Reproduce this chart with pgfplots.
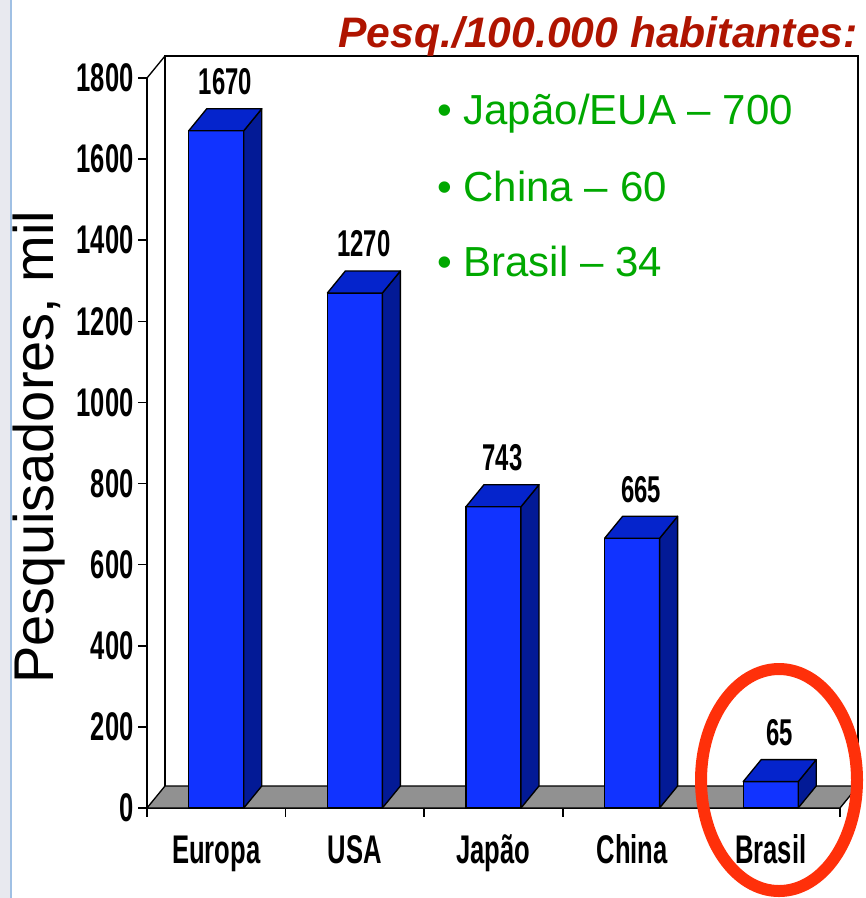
\documentclass[border=0pt]{standalone}
\usepackage{pgfplots}
\pgfplotsset{compat=1.18}
\usepackage{pgfplotstable}
\usepackage{fontspec}
\setmainfont{Liberation Sans}
\newfontfamily\condfont{Liberation Sans}[FakeStretch=0.64]

\definecolor{barfront}{RGB}{17,51,255}
\definecolor{bartop}{RGB}{5,36,204}
\definecolor{barside}{RGB}{3,26,150}
\definecolor{floorgray}{RGB}{145,145,145}
\definecolor{titlered}{RGB}{175,20,0}
\definecolor{bulletgreen}{RGB}{0,168,0}
\definecolor{circlered}{RGB}{255,48,10}
\definecolor{stripgray}{RGB}{232,233,239}
\definecolor{stripblue}{RGB}{160,192,228}

% researchers (thousands) per region
\pgfplotstableread{
x val
0 1670
1 1270
2 743
3 665
4 65
}\researchers

% 3d look: half bar width and depth offset
\newcommand\hw{20.625pt}
\newcommand\dx{13.5pt}
\newcommand\dy{16.5pt}
\pgfdeclareplotmark{empty}{}

\begin{document}
\begin{tikzpicture}
\begin{axis}[
    scale only axis, width=519.75pt, height=547.5pt,
    xmin=-0.5, xmax=4.5, ymin=0, ymax=1800,
    axis x line*=bottom, axis y line*=left,
    xtick={-0.5,0.5,...,4.5},
    x tick label as interval,
    xticklabels={Europa,USA,Japão,China,Brasil},
    ytick={0,200,...,1800},
    tick align=outside,
    major tick length=6.5pt,
    tick style={black, line width=1.1pt},
    axis line style={line width=1.2pt},
    /pgf/number format/1000 sep={},
    /pgf/number format/assume math mode=true,
    ticklabel style={font=\condfont\bfseries\fontsize{30pt}{33pt}\selectfont},
    xticklabel style={anchor=base, yshift=-35pt},
    ylabel={Pesquisadores, mil},
    ylabel style={font=\fontsize{42pt}{46pt}\selectfont,
        at={(axis description cs:-0.1356,0.4945)}, anchor=base},
    clip=false,
]
% floor and back wall
\draw[fill=floorgray, line width=1pt] (axis cs:-0.5,0) -- (axis cs:4.5,0)
    -- ([xshift=\dx,yshift=\dy]axis cs:4.5,0) -- ([xshift=\dx,yshift=\dy]axis cs:-0.5,0) -- cycle;
\draw[line width=1pt] ([xshift=\dx,yshift=\dy]axis cs:-0.5,0)
    -- ([xshift=\dx,yshift=\dy]axis cs:-0.5,1800)
    -- ([xshift=\dx,yshift=\dy]axis cs:4.5,1800)
    -- ([xshift=\dx,yshift=\dy]axis cs:4.5,0);
\draw[line width=1pt] (axis cs:-0.5,1800) -- ++(\dx,\dy);

% side and top faces
\addplot[scatter, only marks, mark=empty,
    visualization depends on={rawy \as \barv},
    scatter/@pre marker code/.code={%
      \filldraw[barside, draw=black, line width=1pt, line join=round]
        (\hw,0pt) -- (\hw+\dx,\dy)
        -- ([shift={(axis direction cs:0,-\barv)}]\hw+\dx,\dy)
        -- ([shift={(axis direction cs:0,-\barv)}]\hw,0pt) -- cycle;
      \filldraw[bartop, draw=black, line width=1pt, line join=round]
        (-\hw,0pt) -- (\hw,0pt) -- (\hw+\dx,\dy) -- (-\hw+\dx,\dy) -- cycle;
    },
    scatter/@post marker code/.code={},
] table[x=x, y=val] {\researchers};

% front faces with values
\addplot[ybar, bar width=41.25pt, fill=barfront, draw=black, line width=1pt,
    nodes near coords,
    every node near coord/.append style={
        font=\condfont\bfseries\fontsize{28pt}{30pt}\selectfont,
        anchor=base, inner sep=0pt, xshift=6.75pt, yshift=27pt, text=black},
] table[x=x, y=val] {\researchers};

\draw[circlered, line width=9pt] (axis cs:4.06,69) ellipse [x radius=58.5pt, y radius=83.25pt];
\end{axis}

\node[anchor=base east, text=titlered, inner sep=0pt,
    font=\bfseries\itshape\fontsize{32pt}{36pt}\selectfont] at (533.25pt,570pt) {Pesq./100.000 habitantes:};
\begin{scope}[every node/.style={anchor=base west, text=bulletgreen, inner sep=0pt,
    font=\fontsize{31.5pt}{34pt}\selectfont}]
\node at (217.5pt,512.25pt) {• Japão/EUA – 700};
\node at (217.5pt,454.5pt) {• China – 60};
\node at (217.5pt,398.25pt) {• Brasil – 34};
\end{scope}

\fill[stripgray] (-110.25pt,-67.5pt) rectangle (-102.75pt,606pt);
\fill[stripblue] (-102.75pt,-67.5pt) rectangle (-101.25pt,606pt);

\pgfresetboundingbox
\path[use as bounding box] (-110.25pt,-67.5pt) rectangle (538.5pt,606pt);
\end{tikzpicture}
\end{document}
